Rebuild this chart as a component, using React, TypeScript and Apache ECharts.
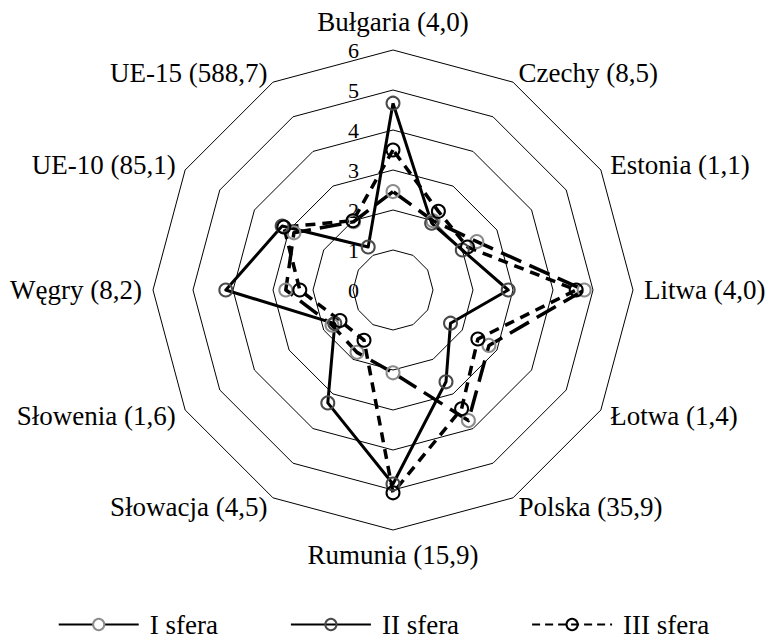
import React, { useEffect, useRef } from 'react';
import * as echarts from 'echarts';

// Indicators listed clockwise starting from the top
const indicatorNames = [
  'Bułgaria (4,0)',
  'Czechy (8,5)',
  'Estonia (1,1)',
  'Litwa (4,0)',
  'Łotwa (1,4)',
  'Polska (35,9)',
  'Rumunia (15,9)',
  'Słowacja (4,5)',
  'Słowenia (1,6)',
  'Węgry (8,2)',
  'UE-10 (85,1)',
  'UE-15 (588,7)',
];

const sferaI = [2.46, 2.0, 2.42, 4.78, 2.77, 3.77, 2.07, 1.8, 1.76, 2.68, 2.86, 1.97];
const sferaII = [4.67, 1.93, 2.0, 2.88, 1.66, 2.65, 4.85, 3.26, 1.68, 4.18, 3.2, 1.24];
const sferaIII = [3.5, 2.27, 2.15, 4.58, 2.45, 3.43, 5.07, 1.45, 1.53, 2.33, 3.15, 2.0];

const seriesNames = ['I sfera', 'II sfera', 'III sfera'];
const axisMin = 0;
const axisMax = 6;
const axisSplits = 6;

const FONT = 'Times New Roman, Liberation Serif, DejaVu Serif, serif';

export default function App() {
  const ref = useRef<HTMLDivElement>(null);

  useEffect(() => {
    if (!ref.current) return;
    const chart = echarts.init(ref.current, undefined, { renderer: 'svg' });

    const n = indicatorNames.length;
    // ECharts places radar indicators counterclockwise; reorder to get clockwise layout
    const order = [0];
    for (let i = n - 1; i >= 1; i--) order.push(i);

    const styles = [
      {
        line: { color: '#000', width: 3.5, type: [22, 9] as number[] },
        legendLine: { color: '#000', width: 3.5, type: 'solid' },
        marker: '#8c8c8c',
        markerFill: '#fff',
        values: sferaI,
      },
      {
        line: { color: '#000', width: 3, type: 'solid' as any },
        legendLine: { color: '#000', width: 2.5, type: 'solid' },
        marker: '#4a4a4a',
        markerFill: 'rgba(0,0,0,0)',
        values: sferaII,
      },
      {
        line: { color: '#000', width: 3.5, type: [10, 7] as number[] },
        legendLine: { color: '#000', width: 3.5, type: [8, 5] },
        marker: '#000',
        markerFill: 'rgba(0,0,0,0)',
        values: sferaIII,
      },
    ];

    // Line series only used to provide line+marker legend icons (no data)
    const legendSeries = styles.map((s, k) => ({
      type: 'line',
      name: seriesNames[k],
      data: [],
      symbol: 'circle',
      symbolSize: 10,
      lineStyle: s.legendLine,
      itemStyle: { color: s.markerFill, borderColor: s.marker, borderWidth: 2 },
    }));

    const radarSeries = styles.map((s, k) => ({
      type: 'radar',
      name: seriesNames[k],
      symbol: 'circle',
      symbolSize: 13,
      lineStyle: s.line,
      itemStyle: { color: 'rgba(0,0,0,0)', borderColor: s.marker, borderWidth: 2 },
      data: [{ name: seriesNames[k], value: order.map((i) => s.values[i]) }],
      silent: true,
    }));

    chart.setOption({
      animation: false,
      backgroundColor: '#fff',
      textStyle: { fontFamily: FONT },
      grid: { show: false, left: 0, top: 0, width: 1, height: 1 },
      xAxis: { type: 'value', show: false },
      yAxis: { type: 'value', show: false },
      legend: {
        data: seriesNames,
        top: 606,
        left: 'center',
        itemWidth: 80,
        itemHeight: 14,
        itemGap: 72,
        textStyle: { color: '#000', fontFamily: FONT, fontSize: 27, padding: [0, 0, 0, 6] },
        selectedMode: false,
      },
      radar: {
        center: [393, 290],
        radius: 240,
        startAngle: 90,
        shape: 'polygon',
        splitNumber: axisSplits,
        nameGap: 11,
        axisName: {
          color: '#000',
          fontFamily: FONT,
          fontSize: 27,
          padding: [0, 0, 4, 0],
        },
        indicator: order.map((i, k) => ({
          name: indicatorNames[i],
          min: axisMin,
          max: axisMax,
          ...(k === 0
            ? {
                axisLabel: {
                  show: true,
                  color: '#000',
                  fontFamily: FONT,
                  fontSize: 22,
                  margin: 34,
                },
              }
            : {}),
        })),
        splitLine: { lineStyle: { color: '#000', width: 1 } },
        splitArea: { show: false },
        axisLine: { show: false },
        axisTick: { show: false },
        axisLabel: { show: false },
      },
      series: [...legendSeries, ...radarSeries],
    } as any);

    return () => chart.dispose();
  }, []);

  return (
    <div
      ref={ref}
      style={{ position: 'absolute', left: 0, top: 0, width: 767, height: 639 }}
    />
  );
}
